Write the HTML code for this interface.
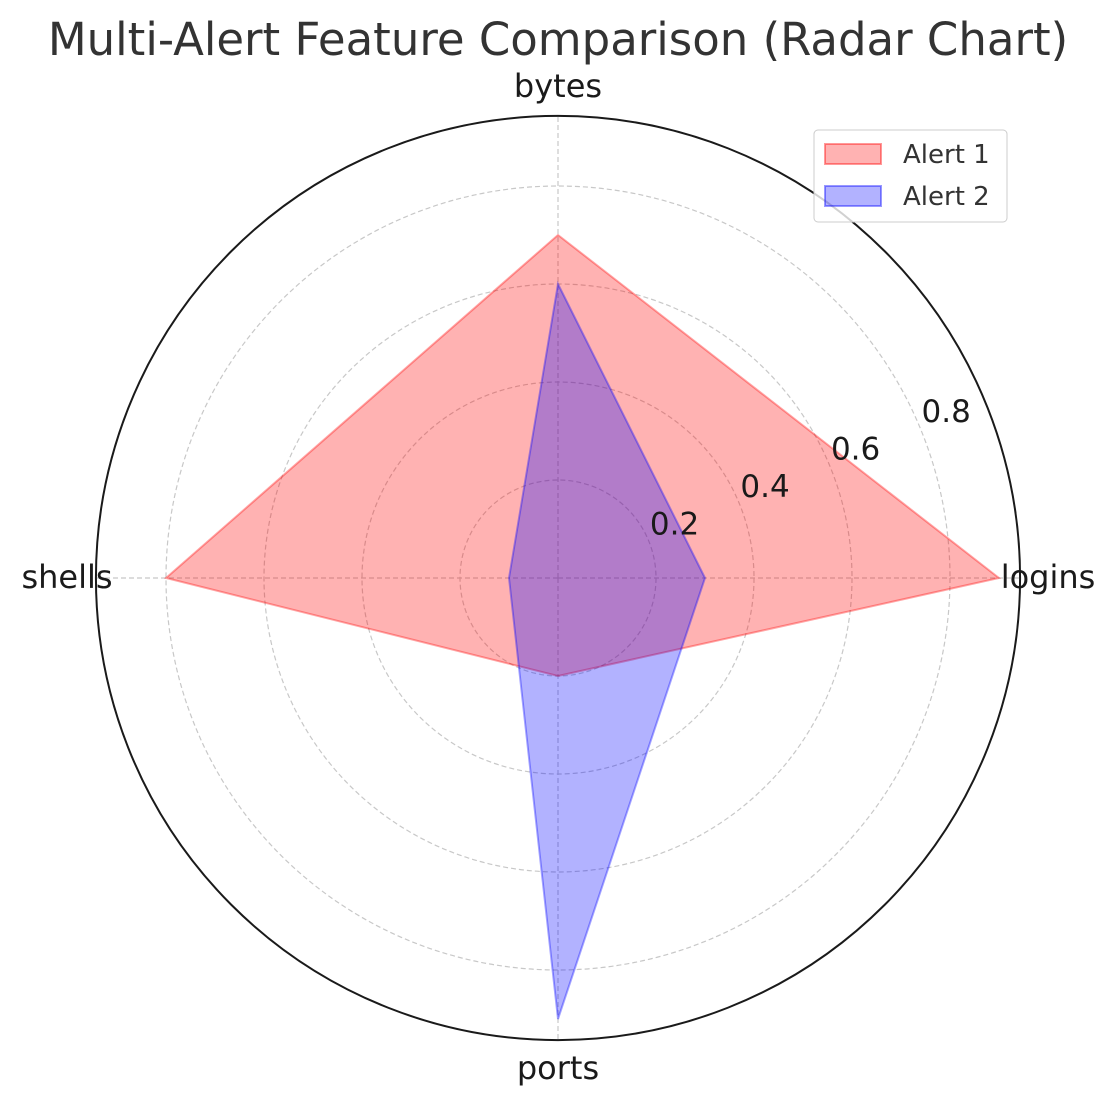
<!DOCTYPE html>
<html><head><meta charset="utf-8"><style>
body{margin:0;background:#fff}
svg text{font-family:"DejaVu Sans","Liberation Sans",sans-serif}
</style></head><body>
<svg id="chart" width="1119" height="1106" viewBox="0 0 1119 1106" xmlns="http://www.w3.org/2000/svg">
<rect width="1119" height="1106" fill="#fff"/>
<text x="558" y="55" text-anchor="middle" font-size="45" fill="#333">Multi-Alert Feature Comparison (Radar Chart)</text>
<g id="grid"></g>
<g id="series"></g>
<g id="labels"></g>
<g>
<rect x="814" y="130" width="193" height="92" rx="4" fill="#fff" fill-opacity="0.8" stroke="#ccc"/>
<rect x="825" y="144" width="56" height="20" fill="rgba(255,0,0,0.3)" stroke="rgba(255,0,0,0.4)" stroke-width="2"/>
<text x="903" y="163" font-size="26" fill="#333">Alert 1</text>
<rect x="825" y="186" width="56" height="20" fill="rgba(0,0,255,0.3)" stroke="rgba(0,0,255,0.4)" stroke-width="2"/>
<text x="903" y="205" font-size="26" fill="#333">Alert 2</text>
</g>
</svg>
<script>
const categories=["logins","bytes","shells","ports"];
const alert1=[0.9,0.7,0.8,0.2];
const alert2=[0.3,0.6,0.1,0.9];
const rTicks=[0.2,0.4,0.6,0.8];
const rTickLabels=["0.2","0.4","0.6","0.8"];
const rMax=0.943;
const cx=558,cy=578,scale=490;
const NS="http://www.w3.org/2000/svg";
function rad(v){return v*scale;}
function ang(i){return i*2*Math.PI/categories.length;}
function pt(i,v){return [cx+rad(v)*Math.cos(ang(i)),cy-rad(v)*Math.sin(ang(i))];}
function mk(tag,attrs,parent){const e=document.createElementNS(NS,tag);for(const k in attrs)e.setAttribute(k,attrs[k]);parent.appendChild(e);return e;}
const grid=document.getElementById('grid');
rTicks.forEach((t,i)=>{
 const c=mk('circle',{cx:cx,cy:cy,r:rad(t),fill:'none',stroke:'#c8c8c8','stroke-width':1.2,'stroke-dasharray':'5,3'},grid);
 
 
});
categories.forEach((c,i)=>{
 const p=pt(i,rMax);
 const l=mk('line',{x1:cx,y1:cy,x2:p[0],y2:p[1],stroke:'#c8c8c8','stroke-width':1.2,'stroke-dasharray':'5,3'},grid);
 
 
});
const outer=mk('circle',{cx:cx,cy:cy,r:rad(rMax),fill:'none',stroke:'#1a1a1a','stroke-width':2},grid);


const ser=document.getElementById('series');
[[alert1,'rgba(255,0,0,0.3)','rgba(255,0,0,0.35)','alert-1'],[alert2,'rgba(0,0,255,0.3)','rgba(0,0,255,0.35)','alert-2']].forEach(s=>{
 const pts=s[0].map((v,i)=>pt(i,v).join(',')).join(' ');
 const p=mk('polygon',{points:pts,fill:s[1],stroke:s[2],'stroke-width':2},ser);
 
 
});
const lab=document.getElementById('labels');
const a=22.5*Math.PI/180;
rTicks.forEach((t,i)=>{
 const x=cx+rad(t)*Math.cos(a)+26,y=cy-rad(t)*Math.sin(a)-6;
 const e=mk('text',{x:x,y:y,'text-anchor':'middle','font-size':31,fill:'#1a1a1a'},lab);
 e.textContent=rTickLabels[i];
 
 
});
const catPos=[[1048,588,'middle'],[558,97,'middle'],[67,588,'middle'],[558,1079,'middle']];
categories.forEach((c,i)=>{
 const e=mk('text',{x:catPos[i][0],y:catPos[i][1],'text-anchor':catPos[i][2],'font-size':32,fill:'#1a1a1a'},lab);
 e.textContent=c;
 
 
});
</script>
</body></html>
